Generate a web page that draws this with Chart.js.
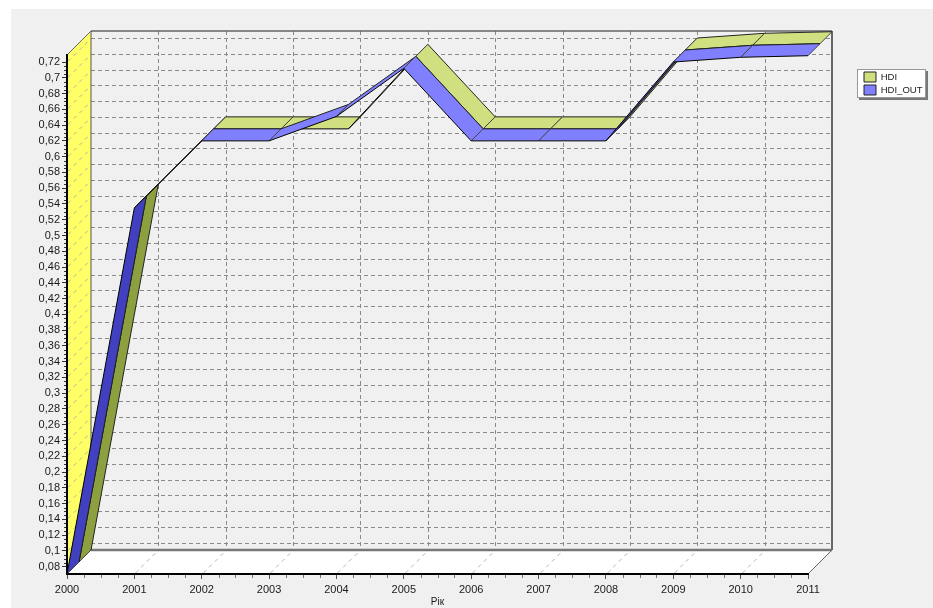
<!DOCTYPE html>
<html>
<head>
<meta charset="utf-8">
<title>HDI</title>
<script src="https://cdn.jsdelivr.net/npm/chart.js@4"></script>
<style>
html, body { margin: 0; padding: 0; background: #fff; overflow: hidden; }
#panel { position: absolute; left: 11px; top: 9px; width: 922px; height: 599px; background: #f0f0f0; }
#grafico { position: absolute; left: 0; top: 0; }
</style>
</head>
<body>
<div id="panel"></div>
<canvas id="grafico" width="933" height="608"></canvas>
<script>
const years = [2000, 2001, 2002, 2003, 2004, 2005, 2006, 2007, 2008, 2009, 2010, 2011];
const hdi = [0.0707, 0.535, 0.62, 0.62, 0.62, 0.712, 0.62, 0.62, 0.62, 0.72, 0.726, 0.728];
const hdiOut = [0.0707, 0.535, 0.62, 0.62, 0.651, 0.712, 0.62, 0.62, 0.62, 0.72, 0.726, 0.728];
const yTicks = [0.08, 0.1, 0.12, 0.14, 0.16, 0.18, 0.2, 0.22, 0.24, 0.26, 0.28, 0.3, 0.32, 0.34, 0.36,
    0.38, 0.4, 0.42, 0.44, 0.46, 0.48, 0.5, 0.52, 0.54, 0.56, 0.58, 0.6, 0.62, 0.64, 0.66, 0.68, 0.7, 0.72];
const yMin = 0.0707;
const yMax = 0.7289;

const depth = 24;
const labelFont = { family: '"Liberation Sans", Arial, sans-serif', size: 11 };
const textColor = '#1a1a1a';

function line(ctx, x1, y1, x2, y2, color, width, dash) {
    ctx.beginPath();
    ctx.setLineDash(dash || []);
    ctx.strokeStyle = color;
    ctx.lineWidth = width;
    ctx.moveTo(x1, y1);
    ctx.lineTo(x2, y2);
    ctx.stroke();
    ctx.setLineDash([]);
}

function polygon(ctx, points, fill) {
    ctx.beginPath();
    points.forEach((p, i) => i ? ctx.lineTo(p[0], p[1]) : ctx.moveTo(p[0], p[1]));
    ctx.closePath();
    ctx.fillStyle = fill;
    ctx.fill();
}

function legendWidth(chart) {
    return chart.legend ? chart.legend.width : 0;
}

// Back wall, left wall and floor of the 3D box
const walls = {
    id: 'walls',
    beforeDraw(chart) {
        const ctx = chart.ctx;
        const { left, right, top, bottom } = chart.chartArea;
        const xs = chart.scales.x;
        const ys = chart.scales.y;

        // Legend frame
        const lg = chart.legend;
        const frameX = lg.left - 4;
        ctx.fillStyle = '#777';
        ctx.fillRect(frameX + 2, lg.top + 2, 69, 29);
        ctx.fillStyle = '#fff';
        ctx.fillRect(frameX, lg.top, 69, 29);
        ctx.strokeStyle = '#999';
        ctx.lineWidth = 1;
        ctx.strokeRect(frameX + 0.5, lg.top + 0.5, 68, 28);

        polygon(ctx, [[left, top], [left + depth, top - depth], [left + depth, bottom - depth], [left, bottom]], '#ffff66');
        polygon(ctx, [[left, bottom], [right, bottom], [right + depth, bottom - depth], [left + depth, bottom - depth]], '#fff');

        yTicks.forEach(v => {
            const y = Math.round(ys.getPixelForValue(v)) + 0.5;
            line(ctx, left + depth, y - depth, right + depth, y - depth, '#8a8a8a', 1, [4, 3]);
            line(ctx, left + 1, y - 1, left + depth - 1, y - depth + 1, '#b5b5a0', 1, [4, 4]);
        });
        years.slice(1, -1).forEach(v => {
            const x = Math.round(xs.getPixelForValue(v)) + 0.5;
            line(ctx, x + depth, top - depth, x + depth, bottom - depth, '#8a8a8a', 1, [4, 3]);
            line(ctx, x + 1, bottom - 1, x + depth - 1, bottom - depth + 1, '#b5b5b5', 1, [4, 4]);
        });

        line(ctx, left + depth, top - depth, right + depth, top - depth, '#666', 1.5);
        line(ctx, right + depth, top - depth, right + depth, bottom - depth, '#666', 2);
        line(ctx, left + depth, bottom - depth, right + depth, bottom - depth, '#777', 2.5);
        line(ctx, left, top, left + depth, top - depth, '#666', 1);
        line(ctx, left + depth, top - depth, left + depth, bottom - depth, '#555', 1);
        line(ctx, right, bottom, right + depth, bottom - depth, '#666', 1);

        // Minor ticks
        for (let i = 0; i < years.length - 1; i++) {
            for (let k = 1; k < 4; k++) {
                const x = Math.round(xs.getPixelForValue(years[i] + k / 4)) + 0.5;
                line(ctx, x, bottom, x, bottom + 4, '#777', 1);
            }
        }
        for (let i = 0; i < yTicks.length - 1; i++) {
            for (let k = 1; k < 4; k++) {
                const y = Math.round(ys.getPixelForValue(yTicks[i] + 0.005 * k)) + 0.5;
                line(ctx, left - 3, y, left, y, '#333', 1);
            }
        }
    }
};

// Ribbons, drawn back to front from the datasets
const ribbons = {
    id: 'ribbons',
    afterDatasetsDraw(chart) {
        const ctx = chart.ctx;
        const xs = chart.scales.x;
        const ys = chart.scales.y;
        [0, 1].forEach(i => {
            const ds = chart.data.datasets[i];
            const z1 = i === 0 ? depth : depth / 2;
            const z0 = z1 - depth / 2;
            ds.data.forEach((v, j) => {
                if (j === ds.data.length - 1) return;
                const x1 = xs.getPixelForValue(years[j]);
                const x2 = xs.getPixelForValue(years[j + 1]);
                const y1 = ys.getPixelForValue(v);
                const y2 = ys.getPixelForValue(ds.data[j + 1]);
                const under = (x2 - x1) + (y2 - y1) < 0;
                polygon(ctx, [[x1 + z0, y1 - z0], [x2 + z0, y2 - z0], [x2 + z1, y2 - z1], [x1 + z1, y1 - z1]],
                    under ? ds.darkColor : ds.backgroundColor);
                line(ctx, x1 + z0, y1 - z0, x1 + z1, y1 - z1, '#444', 1);
                line(ctx, x2 + z0, y2 - z0, x2 + z1, y2 - z1, '#444', 1);
                line(ctx, x1 + z0, y1 - z0, x2 + z0, y2 - z0, '#000', 1);
                line(ctx, x1 + z1, y1 - z1, x2 + z1, y2 - z1, '#222', 1);
            });
        });
    }
};

// Moves the legend to where the frame sits
const legendPlace = {
    id: 'legendPlace',
    afterLayout(chart) {
        chart.legend.top = 69;
        chart.legend.left = 861;
    }
};

const grafico = new Chart(document.getElementById('grafico').getContext('2d'), {
    type: 'line',
    data: {
        labels: years,
        datasets: [
            { label: 'HDI', data: hdi, backgroundColor: '#d0e080', darkColor: '#8ca040', borderColor: '#222', borderWidth: 1, showLine: false, pointRadius: 0 },
            { label: 'HDI_OUT', data: hdiOut, backgroundColor: '#8080ff', darkColor: '#4040c0', borderColor: '#222', borderWidth: 1, showLine: false, pointRadius: 0 }
        ]
    },
    options: {
        responsive: false,
        animation: false,
        layout: { padding: { top: 55, right: 0, left: 0, bottom: 0 } },
        plugins: {
            tooltip: { enabled: false },
            legend: {
                position: 'right',
                align: 'start',
                labels: {
                    boxWidth: 12,
                    boxHeight: 10,
                    padding: 3,
                    color: textColor,
                    font: { family: labelFont.family, size: 9.5 }
                }
            }
        },
        scales: {
            x: {
                type: 'linear',
                min: 2000,
                max: 2011,
                grid: { drawOnChartArea: false, tickLength: 5, color: '#555' },
                border: { color: '#000', width: 2 },
                ticks: {
                    stepSize: 1,
                    color: textColor,
                    font: labelFont,
                    maxRotation: 0,
                    autoSkip: false,
                    padding: 4,
                    callback: v => String(v)
                },
                title: { display: true, text: 'Рік', color: textColor, font: { family: labelFont.family, size: 10 }, padding: 0 },
                afterFit(s) { s.height = 34; }
            },
            y: {
                min: yMin,
                max: yMax,
                afterBuildTicks(s) { s.ticks = yTicks.map(v => ({ value: v })); },
                grid: { drawOnChartArea: false, tickLength: 5, color: '#333' },
                border: { color: '#000', width: 2 },
                ticks: {
                    color: textColor,
                    font: labelFont,
                    padding: 2,
                    callback: v => String(Math.round(v * 100) / 100).replace('.', ',')
                },
                afterFit(s) { s.width = 67; }
            },
            // keeps the plot clear of the legend
            gap: {
                type: 'linear',
                position: 'right',
                grid: { display: false },
                border: { display: false },
                ticks: { display: false },
                afterFit(s) { s.width = 933 - 808 - legendWidth(s.chart); }
            }
        }
    },
    plugins: [walls, ribbons, legendPlace]
});
</script>
</body>
</html>
